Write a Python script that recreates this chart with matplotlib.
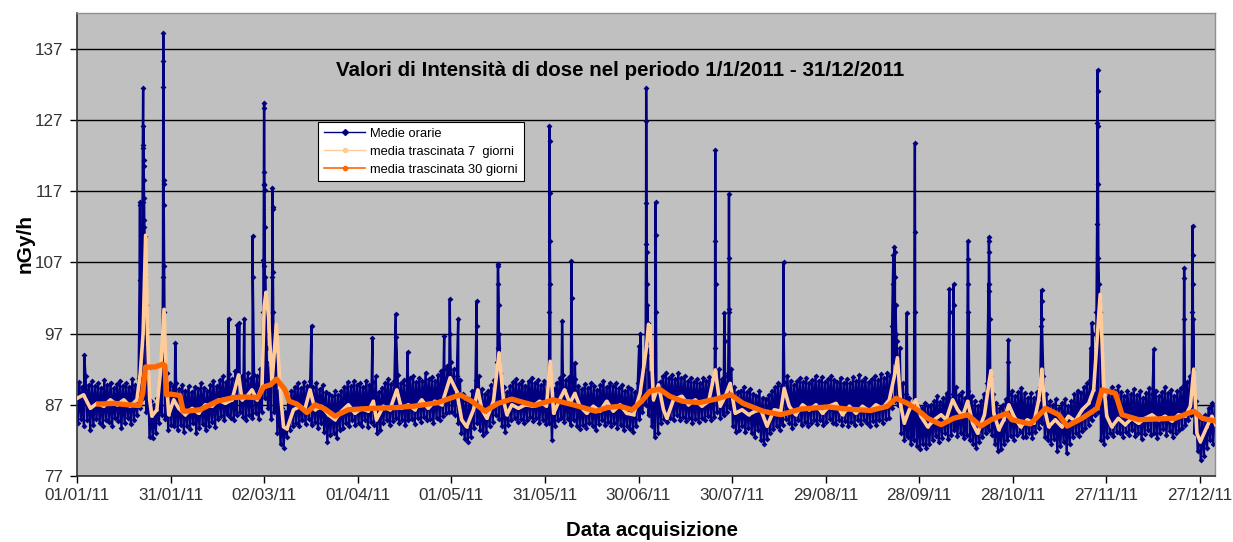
import numpy as np
import matplotlib
matplotlib.use("Agg")
import matplotlib.pyplot as plt
from matplotlib.lines import Line2D

plt.rcParams['font.family'] = ['Liberation Sans', 'DejaVu Sans']

# Medie orarie: minimo e massimo di ogni giorno (giorno 0 = 01/01/11)
blu_min = [
    # gennaio
    84.5, 85.0, 84.0, 84.8, 83.5, 84.2, 85.0, 84.4, 84.0, 84.9, 84.6, 84.0, 85.2, 84.7, 83.8, 84.5,
    85.1, 84.3, 84.8, 85.5, 86.5, 88.0, 86.0, 82.5, 82.3, 83.0, 84.5, 85.5, 85.0, 83.5, 84.2,
    # febbraio
    84.0, 83.5, 84.2, 83.2, 84.0, 83.6, 84.5, 83.0, 83.8, 84.3, 83.4, 84.0, 84.6, 83.9,
    85.0, 85.4, 84.8, 85.6, 85.2, 84.9, 85.5, 86.0, 85.3, 84.8, 85.6, 85.2, 85.8, 85.0,
    # marzo
    86.0, 88.0, 86.5, 85.0, 86.0, 83.0, 81.5, 81.0, 82.5, 83.5, 84.0, 84.5, 84.0, 84.8, 84.3, 85.0,
    84.2, 84.6, 83.8, 84.4, 83.2, 81.8, 82.8, 83.0, 82.4, 83.5, 83.8, 84.5, 84.0, 84.8, 84.2,
    # aprile
    84.5, 84.0, 84.8, 83.9, 84.6, 84.2, 83.0, 83.4, 84.5, 84.9, 84.2, 84.7, 85.2, 84.4, 84.9,
    84.1, 84.8, 85.0, 84.3, 85.1, 84.6, 85.3, 84.8, 85.0, 84.5, 85.2, 84.9, 85.4, 85.8, 86.0,
    # maggio
    86.0, 85.5, 84.5, 83.0, 82.2, 81.8, 82.5, 83.8, 84.5, 83.5, 82.8, 83.2, 84.0, 84.6, 85.5, 85.0,
    84.0, 83.2, 84.2, 84.8, 85.2, 84.6, 85.0, 84.4, 84.9, 85.3, 84.7, 85.1, 84.5, 84.9, 84.3,
    # giugno
    84.5, 82.0, 84.0, 84.8, 85.2, 84.6, 85.0, 84.2, 84.8, 84.0, 83.6, 84.2, 83.8, 84.5, 84.0,
    83.5, 84.3, 84.8, 84.1, 84.6, 84.0, 84.4, 83.7, 84.2, 83.4, 84.0, 83.6, 83.2, 84.0, 85.0,
    # luglio
    86.0, 87.0, 85.5, 84.0, 82.5, 83.0, 84.5, 85.0, 84.6, 85.2, 84.8, 85.5, 84.9, 85.3, 84.7, 85.1,
    84.5, 85.0, 84.6, 85.2, 84.8, 85.4, 84.9, 85.3, 86.0, 85.2, 85.6, 86.0, 86.5, 84.0, 83.2,
    # agosto
    83.5, 84.0, 83.2, 83.8, 83.0, 82.5, 83.4, 82.0, 81.5, 82.2, 83.0, 83.6, 84.0, 83.5, 84.2, 85.0,
    84.5, 83.8, 84.3, 84.8, 84.2, 84.6, 84.0, 84.5, 84.9, 84.3, 84.8, 84.1, 84.6, 85.0, 84.4,
    # settembre
    84.3, 84.9, 84.2, 84.7, 84.0, 84.6, 84.1, 84.8, 84.3, 84.9, 84.4, 84.0, 84.7, 84.2, 84.8,
    84.5, 85.0, 85.2, 86.5, 87.5, 87.0, 83.0, 82.0, 82.5, 81.5, 82.0, 81.2, 80.8, 81.5, 81.0,
    # ottobre
    81.5, 82.0, 82.6, 81.8, 82.4, 83.0, 82.2, 82.8, 83.4, 82.6, 83.0, 82.3, 82.8, 82.0, 81.5, 81.0,
    81.8, 82.5, 83.0, 83.5, 82.8, 81.5, 80.5, 80.8, 81.5, 82.0, 82.6, 82.0, 82.8, 83.2, 82.5,
    # novembre
    82.5, 83.0, 82.4, 83.2, 83.8, 84.5, 82.5, 82.0, 81.5, 82.2, 80.5, 81.2, 81.8, 80.2, 81.5,
    82.5, 83.0, 82.6, 83.3, 83.8, 84.2, 84.8, 85.5, 86.0, 82.0, 81.5, 82.5, 83.0, 82.6, 83.2,
    # dicembre
    83.0, 82.5, 83.2, 82.8, 83.4, 82.6, 83.0, 82.2, 82.9, 83.5, 82.7, 83.1, 82.4, 83.0, 83.6, 82.8,
    83.3, 82.5, 83.0, 83.4, 83.8, 84.2, 84.8, 85.5, 83.0, 80.5, 79.2, 79.8, 81.0, 82.0, 81.5,
]
blu_max = [
    # gennaio
    90.2, 89.5, 91.0, 89.8, 90.3, 89.6, 90.0, 89.4, 90.5, 89.8, 90.1, 89.3, 89.9, 90.4, 89.7, 90.0,
    89.5, 90.6, 89.8, 90.8, 93.0, 96.0, 92.0, 87.5, 87.0, 88.0, 89.5, 92.0, 91.5, 90.0, 89.6,
    # febbraio
    90.0, 89.2, 89.8, 89.0, 89.6, 88.8, 89.5, 89.2, 90.0, 89.4, 88.9, 89.8, 90.3, 89.6,
    90.5, 91.0, 90.2, 91.3, 90.6, 91.8, 90.4, 91.0, 90.5, 91.5, 90.8, 91.2, 91.0, 92.0,
    # marzo
    92.0, 95.0, 93.0, 92.5, 94.0, 89.0, 86.5, 86.0, 88.0, 89.0, 89.5, 90.0, 89.3, 90.2, 89.6, 90.4,
    89.5, 90.0, 89.2, 89.8, 88.8, 88.5, 88.2, 88.9, 88.4, 89.0, 89.5, 90.2, 89.6, 90.3, 89.8,
    # aprile
    90.0, 89.5, 90.4, 89.8, 90.2, 91.0, 88.8, 89.4, 90.1, 90.6, 89.9, 90.3, 91.2, 90.0, 90.5,
    89.8, 90.7, 91.0, 90.2, 90.8, 90.3, 91.5, 90.6, 90.9, 90.4, 91.2, 91.8, 92.0, 92.5, 93.0,
    # maggio
    92.0, 91.0, 90.5, 88.5, 87.5, 87.8, 89.0, 90.5, 91.0, 89.2, 88.5, 89.0, 89.8, 90.5, 93.0, 91.5,
    89.5, 88.8, 89.6, 90.2, 90.6, 89.9, 90.4, 89.7, 90.3, 90.8, 90.1, 90.5, 89.8, 90.4, 89.9,
    # giugno
    90.0, 89.2, 90.1, 90.8, 91.2, 90.5, 90.9, 90.2, 90.6, 89.7, 89.2, 89.9, 89.4, 90.0, 89.6,
    89.1, 89.8, 90.3, 89.5, 90.1, 89.6, 90.0, 89.3, 89.8, 89.0, 89.5, 89.2, 88.8, 90.0, 91.0,
    # luglio
    92.0, 94.0, 91.5, 90.5, 89.5, 90.2, 91.0, 91.5, 90.8, 91.2, 90.6, 91.4, 90.7, 91.0, 90.3, 90.8,
    90.2, 90.6, 90.1, 90.7, 90.3, 90.9, 90.4, 90.8, 92.0, 90.6, 91.0, 91.5, 92.0, 89.5, 88.8,
    # agosto
    89.0, 89.5, 88.8, 89.2, 88.5, 88.2, 88.9, 88.0, 87.8, 88.4, 89.0, 89.5, 90.0, 89.6, 90.2, 91.0,
    90.4, 89.8, 90.3, 90.7, 90.2, 90.8, 90.1, 90.5, 91.0, 90.4, 90.9, 90.2, 90.6, 91.1, 90.5,
    # settembre
    90.2, 90.8, 90.1, 90.6, 90.0, 90.9, 90.3, 91.2, 90.4, 90.8, 90.2, 90.6, 91.0, 90.5, 91.3,
    90.8, 91.5, 91.0, 93.0, 96.0, 95.0, 90.0, 88.5, 88.0, 87.0, 87.5, 86.8, 86.5, 87.2, 86.8,
    # ottobre
    87.0, 87.5, 88.2, 87.4, 88.0, 88.6, 87.8, 88.5, 89.5, 88.4, 88.8, 88.0, 89.0, 88.2, 87.5, 86.8,
    87.5, 88.5, 90.0, 91.0, 88.5, 87.2, 86.5, 87.0, 87.8, 88.5, 89.0, 88.2, 88.8, 89.3, 88.6,
    # novembre
    88.0, 88.6, 88.0, 88.8, 89.5, 91.0, 88.5, 87.5, 87.0, 87.8, 86.5, 87.2, 87.8, 86.8, 87.5,
    88.5, 89.0, 88.6, 89.5, 90.0, 90.5, 91.0, 93.0, 97.0, 88.5, 88.0, 89.0, 89.5, 89.0, 89.6,
    # dicembre
    88.8, 88.2, 89.0, 88.5, 89.2, 88.4, 88.9, 88.0, 88.7, 89.3, 88.5, 89.0, 88.2, 88.8, 89.5, 88.6,
    89.1, 88.3, 88.9, 89.3, 89.8, 90.2, 91.0, 92.0, 87.5, 85.5, 84.8, 85.5, 86.5, 87.2, 86.8,
]

# picchi delle medie orarie (giorno, nGy/h)
picchi = [
    (2.3, 94.0),
    (20.10, 104.5), (20.15, 115.0), (20.20, 115.5), (20.25, 107.0), (20.9, 106.0), (21.0, 115.5),
    (21.1, 123.0), (21.2, 131.5), (21.25, 126.2), (21.3, 123.4), (21.35, 121.4), (21.4, 120.5),
    (21.45, 118.5), (21.5, 116.0), (21.55, 113.0), (21.6, 112.0), (21.7, 110.7), (21.8, 107.0),
    (21.9, 105.0), (22.0, 101.0), (22.2, 98.0),
    (27.55, 105.0), (27.62, 131.6), (27.66, 139.2), (27.70, 135.2), (27.74, 118.5), (27.78, 118.0),
    (27.82, 115.0), (27.9, 106.5), (28.0, 100.0),
    (31.5, 95.7), (48.6, 99.1), (51.4, 98.2), (52.0, 98.5), (53.6, 99.1), (56.3, 110.7), (56.35, 105.0),
    (59.7, 100.0), (59.75, 107.3), (59.8, 106.5), (59.9, 118.0), (59.95, 129.4), (60.0, 128.7),
    (60.05, 119.7), (60.1, 117.9), (60.15, 117.2), (60.2, 112.0), (60.3, 105.0),
    (62.6, 105.0), (62.65, 117.5), (62.7, 114.8), (62.75, 114.5), (62.8, 105.7), (62.9, 100.0),
    (75.2, 98.1), (94.7, 96.4), (102.2, 99.7), (102.25, 96.5), (106.0, 94.4), (117.7, 96.6),
    (119.5, 101.8), (119.6, 97.0), (122.2, 99.1), (128.1, 101.5), (128.15, 98.0),
    (134.8, 95.0), (134.9, 106.8), (135.0, 106.5), (135.1, 104.0), (135.2, 101.0), (135.3, 97.0),
    (151.4, 100.0), (151.45, 126.1), (151.5, 124.1), (151.55, 116.8), (151.6, 110.0), (151.7, 104.0),
    (155.5, 98.8), (158.5, 107.2), (158.55, 102.0), (159.6, 92.9),
    (180.2, 95.2), (180.6, 97.0),
    (182.3, 97.0), (182.4, 109.5), (182.45, 131.5), (182.5, 126.8), (182.55, 115.3), (182.6, 108.5),
    (182.7, 104.0), (182.8, 101.0), (183.0, 98.5),
    (185.5, 115.4), (185.55, 110.8), (185.6, 100.0),
    (204.5, 95.0), (204.6, 122.8), (204.65, 110.0), (204.7, 104.0), (207.5, 99.9), (207.6, 96.0),
    (208.9, 100.0), (209.0, 116.6), (209.05, 107.6), (209.1, 100.5),
    (226.5, 107.0), (226.55, 97.0),
    (261.3, 98.0), (261.5, 104.0), (261.7, 108.0), (262.0, 109.2), (262.1, 108.5), (262.2, 105.0),
    (262.4, 101.0), (262.6, 97.0),
    (266.0, 99.9), (268.6, 123.7), (268.65, 111.3), (268.7, 100.0),
    (279.6, 103.2), (279.7, 100.0), (281.0, 103.9), (281.05, 101.0),
    (285.6, 110.0), (285.65, 107.5), (285.7, 104.0), (285.75, 100.0),
    (292.2, 104.0), (292.3, 110.5), (292.35, 110.0), (292.4, 108.5), (292.5, 103.0), (292.6, 99.0),
    (298.5, 96.1), (298.55, 93.0),
    (309.1, 98.0), (309.2, 103.1), (309.25, 101.5), (309.3, 99.0),
    (325.0, 95.0), (325.3, 98.5), (325.6, 97.0), (326.8, 100.0), (327.0, 112.4), (327.1, 126.6),
    (327.15, 134.0), (327.2, 131.1), (327.25, 126.2), (327.3, 118.0), (327.4, 107.6), (327.6, 104.0),
    (327.8, 100.0), (328.0, 97.0),
    (345.2, 94.8), (354.9, 106.2), (354.95, 104.8), (355.0, 99.0),
    (357.5, 100.0), (357.6, 112.1), (357.65, 108.0), (357.7, 104.0), (357.8, 99.0),
]

# media trascinata 7 giorni (giorno, nGy/h)
media7 = [
    (0.0, 87.9), (2.1, 88.4), (4.3, 86.5), (6.4, 87.2), (8.5, 86.8), (10.7, 87.7), (12.8, 87.0),
    (15.0, 87.7), (17.0, 86.8), (19.2, 87.7), (20.3, 91.5), (21.2, 97.1), (22.0, 110.8), (22.6, 97.1),
    (23.3, 87.7), (24.0, 85.4), (25.6, 86.3), (26.9, 92.4), (27.9, 100.4), (28.6, 91.0), (29.4, 85.6),
    (31.0, 87.7), (32.6, 86.5), (34.7, 85.6), (36.9, 86.5), (39.0, 85.8), (41.1, 87.0), (43.3, 86.8),
    (45.4, 87.7), (47.5, 87.2), (49.7, 87.7), (51.8, 91.2), (52.9, 87.7), (54.5, 88.2), (56.1, 89.1),
    (57.7, 87.7), (59.3, 89.6), (60.0, 100.8), (60.6, 102.8), (61.4, 99.4), (62.5, 90.0), (63.9, 98.3),
    (65.4, 87.7), (66.2, 83.9), (67.3, 83.6), (69.4, 86.3), (71.6, 86.8), (73.0, 86.3), (74.7, 89.1),
    (76.3, 86.3), (78.4, 86.8), (80.6, 85.6), (82.7, 84.9), (84.8, 86.1), (87.0, 87.0), (89.1, 85.8),
    (91.2, 86.5), (93.4, 86.1), (95.0, 87.5), (96.0, 84.9), (98.2, 86.8), (100.3, 86.3), (102.5, 89.1),
    (104.0, 86.5), (106.2, 87.0), (108.3, 86.3), (110.5, 87.7), (112.6, 86.5), (114.7, 87.5),
    (116.9, 87.0), (119.6, 90.8), (121.7, 88.9), (123.3, 84.9), (124.9, 83.9), (127.1, 86.3),
    (128.5, 89.1), (129.8, 86.3), (131.4, 85.1), (133.5, 87.5), (135.3, 94.3), (136.7, 87.7),
    (137.8, 85.6), (139.4, 87.0), (141.5, 86.5), (143.7, 87.0), (146.2, 86.8), (148.3, 87.5),
    (150.5, 86.8), (151.7, 93.1), (152.8, 85.8), (154.7, 87.7), (156.3, 89.1), (158.0, 87.2),
    (159.6, 88.6), (161.2, 86.8), (163.4, 85.8), (165.5, 86.8), (167.6, 86.1), (169.8, 87.5),
    (171.9, 86.1), (174.1, 87.0), (176.2, 85.8), (178.4, 85.6), (180.5, 88.6), (182.6, 95.2),
    (183.2, 98.3), (183.7, 98.0), (184.8, 87.7), (186.4, 89.8), (188.0, 86.3), (189.1, 85.1),
    (191.2, 87.7), (193.9, 88.2), (196.0, 87.0), (198.2, 87.7), (200.3, 86.8), (202.5, 87.5),
    (204.6, 91.9), (206.2, 86.8), (207.8, 88.2), (209.4, 90.0), (211.0, 85.8), (213.2, 86.3),
    (215.3, 85.6), (217.4, 86.1), (219.2, 86.3), (221.2, 84.0), (223.5, 86.3), (225.6, 86.1),
    (226.7, 89.3), (228.3, 86.8), (230.4, 85.6), (232.6, 87.0), (234.7, 86.3), (236.9, 87.0),
    (239.0, 85.8), (241.1, 86.8), (243.3, 87.2), (245.4, 85.6), (247.6, 86.8), (249.7, 85.8),
    (251.8, 86.8), (254.0, 86.1), (256.1, 87.0), (258.2, 86.5), (260.4, 87.7), (262.0, 91.0),
    (263.0, 93.6), (264.1, 86.8), (265.2, 84.4), (266.8, 86.3), (268.9, 87.7), (270.5, 85.4),
    (272.7, 83.9), (274.8, 84.9), (277.0, 85.6), (278.6, 84.9), (280.7, 87.7), (282.3, 86.3),
    (283.9, 85.4), (285.5, 87.5), (287.1, 84.4), (288.7, 83.0), (290.9, 85.6), (292.5, 90.5),
    (293.0, 91.8), (293.9, 85.8), (295.5, 83.5), (297.1, 84.9), (298.7, 87.0), (300.3, 85.4),
    (302.5, 83.9), (304.6, 84.9), (306.7, 84.4), (308.3, 87.7), (309.3, 92.0), (310.2, 86.3),
    (311.5, 83.9), (313.6, 84.9), (315.7, 83.9), (317.8, 85.4), (320.0, 84.7), (322.2, 86.3),
    (324.3, 87.2), (325.9, 89.1), (327.5, 99.4), (328.0, 102.5), (329.1, 90.0), (330.1, 85.4),
    (331.7, 83.9), (333.8, 85.1), (336.0, 84.2), (338.1, 85.1), (340.3, 84.4), (342.4, 85.1),
    (344.6, 85.6), (346.7, 84.9), (348.8, 85.4), (351.0, 84.7), (353.1, 85.6), (355.3, 85.4),
    (356.9, 86.8), (358.0, 92.0), (359.0, 83.0), (360.1, 81.8), (362.2, 83.9), (363.8, 85.4),
    (365.0, 84.2),
]

# media trascinata 30 giorni (giorno, nGy/h)
media30 = [
    (7.0, 87.1), (12.0, 87.2), (16.0, 87.0), (20.0, 86.9), (21.0, 88.5), (22.0, 92.3), (25.0, 92.3),
    (27.5, 92.7), (28.2, 92.5), (28.7, 88.4), (30.0, 88.5), (33.0, 88.3), (34.0, 86.1), (35.0, 86.1),
    (39.4, 86.3), (45.0, 87.5), (50.0, 88.0), (53.4, 88.1), (58.0, 88.0), (59.8, 89.5), (62.0, 89.8),
    (64.0, 90.6), (66.7, 89.1), (68.0, 87.5), (70.5, 87.1), (73.7, 85.9), (76.3, 87.0), (79.5, 86.4),
    (82.7, 85.4), (86.9, 86.3), (94.5, 86.5), (102.0, 86.6), (108.0, 86.8), (115.7, 87.3),
    (119.5, 87.9), (122.8, 88.4), (126.5, 87.5), (130.8, 86.1), (135.0, 87.2), (139.4, 87.8),
    (142.5, 87.4), (146.8, 86.9), (152.6, 87.7), (159.0, 87.0), (166.3, 86.1), (170.0, 86.6),
    (174.0, 86.8), (178.0, 86.3), (181.0, 87.5), (183.7, 88.9), (186.7, 89.2), (190.0, 88.2),
    (194.0, 87.5), (199.5, 87.3), (204.8, 87.8), (209.6, 88.4), (213.5, 87.2), (219.9, 86.1),
    (225.6, 85.6), (232.0, 86.4), (240.6, 86.7), (247.0, 86.4), (254.5, 86.2), (259.8, 86.8),
    (262.5, 87.9), (266.2, 87.2), (269.4, 86.3), (272.7, 85.1), (277.0, 84.2), (281.0, 85.1),
    (285.5, 85.6), (289.7, 84.0), (293.0, 84.9), (298.0, 85.8), (299.7, 84.9), (305.6, 84.3),
    (310.5, 86.5), (314.7, 85.6), (317.4, 84.0), (322.2, 85.1), (327.0, 86.5), (328.6, 89.1),
    (332.9, 88.6), (335.0, 85.6), (340.4, 84.9), (345.7, 85.0), (352.0, 85.1), (358.0, 86.1),
    (360.7, 85.1), (365.0, 84.7),
]

tick_giorni = [0, 30, 60, 90, 120, 150, 180, 210, 240, 270, 300, 330, 360]
tick_date = ["01/01/11", "31/01/11", "02/03/11", "01/04/11", "01/05/11", "31/05/11", "30/06/11",
             "30/07/11", "29/08/11", "28/09/11", "28/10/11", "27/11/11", "27/12/11"]
tick_y = [77, 87, 97, 107, 117, 127, 137]

# serie oraria: minimo e massimo alternati, con i picchi inseriti al loro istante
giorni = np.arange(len(blu_min))
t_blu = np.concatenate([giorni + 0.25, giorni + 0.75, [p[0] for p in picchi]])
v_blu = np.concatenate([blu_min, blu_max, [p[1] for p in picchi]])
ordine = np.argsort(t_blu, kind="stable")
t_blu, v_blu = t_blu[ordine], v_blu[ordine]

fig = plt.figure(figsize=(12.33, 5.42), dpi=100)
ax = fig.add_axes([77 / 1233, 1 - 476 / 542, 1138 / 1233, 463 / 542])
ax.set_facecolor("#C0C0C0")

blu = "#000080"
pesca = "#FFCC99"
arancio = "#FF6600"

ax.plot(t_blu, v_blu, color=blu, lw=1.7, marker="D", ms=3.0, mew=0, zorder=2)
ax.plot([p[0] for p in media7], [p[1] for p in media7], color=pesca, lw=2.6,
        marker="o", ms=1.8, mew=0, zorder=3)
ax.plot([p[0] for p in media30], [p[1] for p in media30], color=arancio, lw=3.8,
        solid_joinstyle="round", zorder=4)

ax.set_xlim(0, 364.8)
ax.set_ylim(77, 142)
ax.set_xticks(tick_giorni)
ax.set_xticklabels(tick_date)
ax.set_yticks(tick_y)
ax.set_yticklabels([str(v) for v in tick_y])
ax.yaxis.grid(True, color="black", lw=1.0)
ax.set_axisbelow(True)
ax.tick_params(axis="both", direction="out", length=5, width=1, colors="black",
               labelsize=12.3, labelcolor="#333333")
ax.tick_params(axis="x", pad=4)
ax.tick_params(axis="y", pad=5)

for lato in ("top", "right"):
    ax.spines[lato].set_color("#909090")
    ax.spines[lato].set_linewidth(1.0)
for lato in ("left", "bottom"):
    ax.spines[lato].set_color("#303030")
    ax.spines[lato].set_linewidth(1.2)

ax.text(0.477, 0.875, "Valori di Intensità di dose nel periodo 1/1/2011 - 31/12/2011",
        transform=ax.transAxes, ha="center", va="center", fontsize=14.8, fontweight="bold")
fig.text(0.020, 0.55, "nGy/h", rotation=90, ha="center", va="center",
         fontsize=15, fontweight="bold")
fig.text(0.529, 0.022, "Data acquisizione", ha="center", va="center",
         fontsize=14.7, fontweight="bold")

maniglie = [
    Line2D([], [], color=blu, lw=1.0, marker="D", ms=3),
    Line2D([], [], color=pesca, lw=1.0, marker="o", ms=3),
    Line2D([], [], color=arancio, lw=1.2, marker="o", ms=3),
]
etichette = ["Medie orarie", "media trascinata 7  giorni", "media trascinata 30 giorni"]
leg = ax.legend(maniglie, etichette, loc="upper left", bbox_to_anchor=(0.2118, 0.7646),
                borderaxespad=0, fontsize=9.3, frameon=True, fancybox=False,
                handlelength=3.2, handletextpad=0.4, labelspacing=0.45, borderpad=0.45)
leg.get_frame().set_edgecolor("black")
leg.get_frame().set_linewidth(0.8)
leg.get_frame().set_facecolor("white")
leg.get_frame().set_alpha(1)

fig.savefig("out.png", dpi=100)
